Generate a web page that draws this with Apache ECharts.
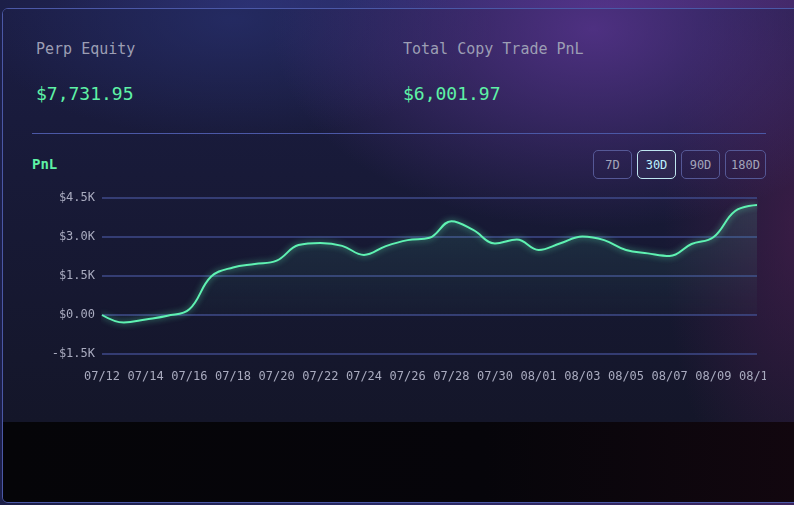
<!DOCTYPE html>
<html>
<head>
<meta charset="utf-8">
<script src="https://cdn.jsdelivr.net/npm/echarts@6/dist/echarts.min.js"></script>
<style>
  html, body { margin: 0; padding: 0; }
  body {
    width: 794px; height: 505px; overflow: hidden; position: relative;
    font-family: "DejaVu Sans Mono", monospace;
    background:
      radial-gradient(ellipse 260px 160px at 600px 20px, rgba(110,60,170,0.55), rgba(110,60,170,0) 100%),
      radial-gradient(ellipse 200px 140px at 250px 10px, rgba(50,60,140,0.5), rgba(50,60,140,0) 100%),
      linear-gradient(90deg, #1c1f48 0%, #2a2b66 50%, #3d2660 100%);
  }
  #card {
    position: absolute; left: 2px; top: 8px; width: 800px; height: 493px;
    border: 1px solid #4b58a6; border-radius: 6px; overflow: hidden;
    background: #050508;
  }
  #panel {
    position: absolute; left: 0; top: 0; width: 100%; height: 413px;
    background:
      radial-gradient(ellipse 320px 200px at 590px 20px, rgba(95,55,150,0.75), rgba(95,55,150,0) 100%),
      radial-gradient(ellipse 140px 300px at 800px 220px, rgba(80,30,80,0.6), rgba(80,30,80,0) 100%),
      radial-gradient(ellipse 260px 120px at 230px 10px, rgba(40,48,110,0.7), rgba(40,48,110,0) 100%),
      linear-gradient(180deg, #1b1d44 0%, #181a38 40%, #141629 100%);
  }
  #bottom {
    position: absolute; left: 0; top: 413px; width: 100%; height: 90px;
    background: linear-gradient(90deg, #050508 0%, #06050a 60%, #12070f 100%);
  }
  .lbl { position: absolute; color: #9c9eb4; font-size: 15px; }
  .val { position: absolute; color: #5ef2a6; font-size: 18px; }
  #divider { position: absolute; left: 32px; top: 133px; width: 734px; height: 1px; background: #4b58a6; }
  #pnl { position: absolute; left: 32px; top: 156px; color: #5ef2a6; font-size: 14px; font-weight: bold; }
  .btn {
    position: absolute; top: 150px; height: 29px; line-height: 28px;
    border: 1px solid #555896; border-radius: 5px; color: #a3a4ba;
    font-size: 12px; text-align: center; box-sizing: border-box;
  }
  .btn.on { border-color: #bfe6f0; color: #bdf2ff; background: rgba(255,255,255,0.04); }
  #chart { position: absolute; left: 32px; top: 181px; width: 734px; height: 210px; }
</style>
</head>
<body>
<div id="card">
  <div id="panel"></div>
  <div id="bottom"></div>
</div>
<div class="lbl" style="left:36px;top:40px;">Perp Equity</div>
<div class="val" style="left:36px;top:83px;">$7,731.95</div>
<div class="lbl" style="left:403px;top:40px;">Total Copy Trade PnL</div>
<div class="val" style="left:403px;top:83px;">$6,001.97</div>
<div id="divider"></div>
<div id="pnl">PnL</div>
<div class="btn" style="left:593px;width:39px;">7D</div>
<div class="btn on" style="left:637px;width:39px;">30D</div>
<div class="btn" style="left:681px;width:39px;">90D</div>
<div class="btn" style="left:725px;width:41px;">180D</div>
<div id="chart"></div>
<script>
var dates = ["07/12", "07/13", "07/14", "07/15", "07/16", "07/17", "07/18", "07/19", "07/20", "07/21",
  "07/22", "07/23", "07/24", "07/25", "07/26", "07/27", "07/28", "07/29", "07/30", "07/31",
  "08/01", "08/02", "08/03", "08/04", "08/05", "08/06", "08/07", "08/08", "08/09", "08/10", "08/11"];
var pnl = [0, -290, -170, -30, 220, 1480, 1830, 1960, 2090, 2690,
  2770, 2660, 2310, 2650, 2880, 2970, 3610, 3270, 2750, 2900,
  2500, 2760, 3020, 2880, 2500, 2370, 2270, 2730, 2990, 4000, 4230];

var myChart = echarts.init(document.getElementById("chart"));

var option = {
  animation: false,
  grid: { left: 70, right: 9, top: 17, bottom: 37, outerBoundsMode: "none", containLabel: false },
  xAxis: {
    type: "category",
    data: dates,
    boundaryGap: false,
    axisLine: { show: false },
    axisTick: { show: false },
    axisLabel: {
      interval: 1,
      color: "#a9abbf",
      fontFamily: "DejaVu Sans Mono",
      fontSize: 12,
      margin: 17,
      hideOverlap: false
    }
  },
  yAxis: {
    type: "value",
    min: -1500,
    max: 4500,
    interval: 1500,
    axisLine: { show: false },
    axisTick: { show: false },
    splitLine: { lineStyle: { color: "#3f4a8a", width: 1.5 } },
    axisLabel: {
      color: "#a9abbf",
      fontFamily: "DejaVu Sans Mono",
      fontSize: 12,
      margin: 7,
      formatter: function (v) {
        if (v === 0) return "$0.00";
        var s = (Math.abs(v) / 1000).toFixed(1) + "K";
        return (v < 0 ? "-$" : "$") + s;
      }
    }
  },
  series: [{
    type: "line",
    data: pnl,
    smooth: 0.4,
    symbol: "none",
    lineStyle: {
      color: "#5ff2b2",
      width: 2,
      shadowColor: "rgba(95,242,178,0.7)",
      shadowBlur: 6
    },
    areaStyle: {
      color: new echarts.graphic.LinearGradient(0, 0, 0, 1, [
        { offset: 0, color: "rgba(80,200,160,0.22)" },
        { offset: 1, color: "rgba(80,200,160,0.02)" }
      ])
    }
  }]
};

myChart.setOption(option);
</script>
</body>
</html>
